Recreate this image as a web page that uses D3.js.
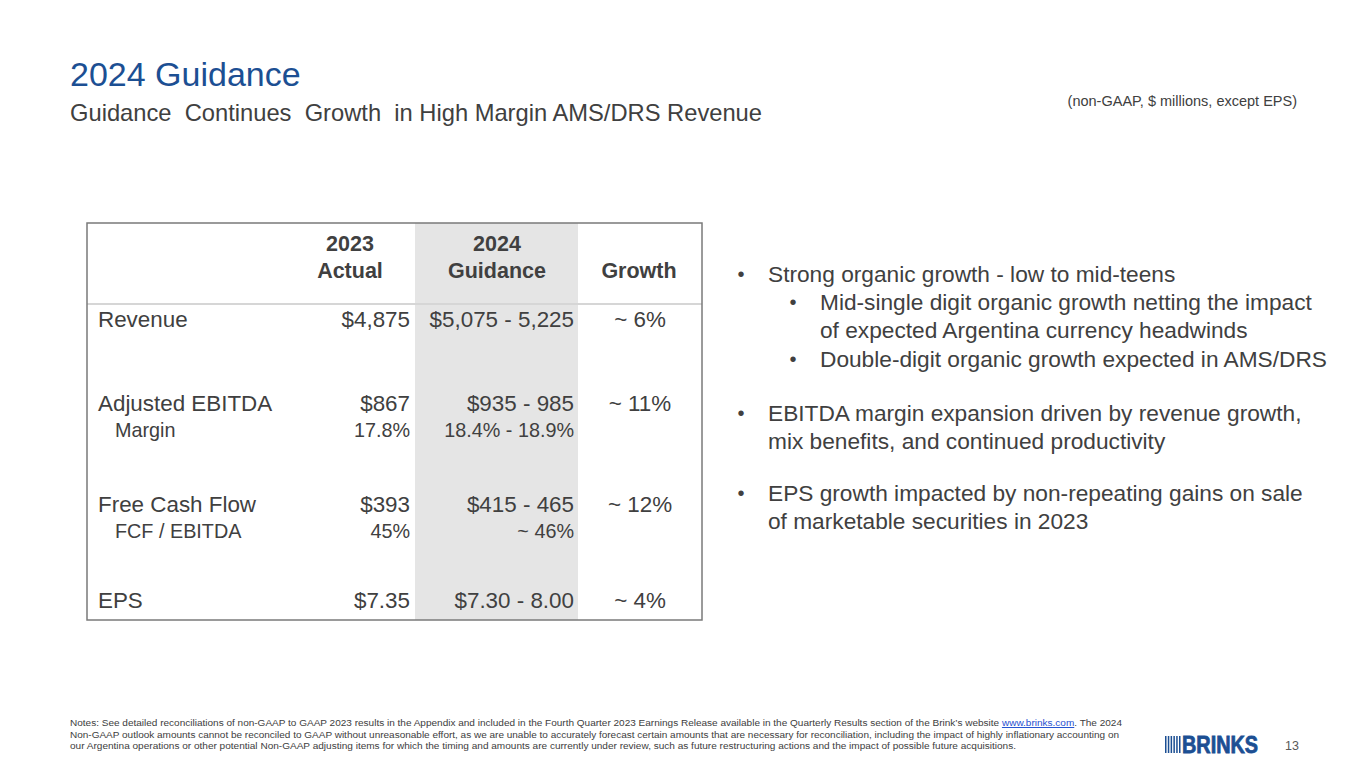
<!DOCTYPE html>
<html>
<head>
<meta charset="utf-8">
<script src="https://cdn.jsdelivr.net/npm/d3@7"></script>
<style>
  html, body { margin: 0; padding: 0; background: #fff; }
  svg { display: block; font-family: "Liberation Sans", Arial, sans-serif; }
</style>
</head>
<body>
<script>
// Slide text and table values.
const title = "2024 Guidance";
const subtitle = "Guidance  Continues  Growth  in High Margin AMS/DRS Revenue";
const unitsNote = "(non-GAAP, $ millions, except EPS)";

const columnTop = ["", "2023", "2024", ""];
const columnBottom = ["", "Actual", "Guidance", "Growth"];

const metrics = ["Revenue", "Adjusted EBITDA", "Free Cash Flow", "EPS"];
const subMetrics = [null, "Margin", "FCF / EBITDA", null];
const actual2023 = ["$4,875", "$867", "$393", "$7.35"];
const actual2023Sub = [null, "17.8%", "45%", null];
const guidance2024 = ["$5,075 - 5,225", "$935 - 985", "$415 - 465", "$7.30 - 8.00"];
const guidance2024Sub = [null, "18.4% - 18.9%", "~ 46%", null];
const growth = ["~ 6%", "~ 11%", "~ 12%", "~ 4%"];

const bulletLevels = [0, 1, 1, 0, 0];
const bulletLines = [
  ["Strong organic growth - low to mid-teens"],
  ["Mid-single digit organic growth netting the impact", "of expected Argentina currency headwinds"],
  ["Double-digit organic growth expected in AMS/DRS"],
  ["EBITDA margin expansion driven by revenue growth,", "mix benefits, and continued productivity"],
  ["EPS growth impacted by non-repeating gains on sale", "of marketable securities in 2023"]
];

const footLines = [
  ["Notes: See detailed reconciliations of non-GAAP to GAAP 2023 results in the Appendix and included in the Fourth Quarter 2023 Earnings Release available in the Quarterly Results section of the Brink\u2019s website ", "www.brinks.com", ". The 2024"],
  ["Non-GAAP outlook amounts cannot be reconciled to GAAP without unreasonable effort, as we are unable to accurately forecast certain amounts that are necessary for reconciliation, including the impact of highly inflationary accounting on"],
  ["our Argentina operations or other potential Non-GAAP adjusting items for which the timing and amounts are currently under review, such as future restructuring actions and the impact of possible future acquisitions."]
];
const footWidths = [1052, 1049, 946];
const pageNumber = "13";

const W = 1365, H = 768;
const grey = "#404040", blue = "#1c4f93";

const svg = d3.select("body").append("svg")
  .attr("width", W).attr("height", H);

// heading
svg.append("text").attr("x", 70).attr("y", 86)
  .attr("font-size", 34).attr("fill", blue).text(title);
svg.append("text").attr("x", 70).attr("y", 121)
  .attr("font-size", 24).attr("fill", grey)
  .attr("textLength", 692).attr("lengthAdjust", "spacingAndGlyphs")
  .style("white-space", "pre").text(subtitle);
svg.append("text").attr("x", 1297).attr("y", 106)
  .attr("text-anchor", "end").attr("font-size", 14.5).attr("fill", grey)
  .text(unitsNote);

// table
const table = { left: 87, right: 702, top: 223, bottom: 620, headerBottom: 304 };
const colAnchor = d3.scaleOrdinal().domain([0, 1, 2, 3]).range([98, 410, 574, 640]);
const colAlign = ["start", "end", "end", "middle"];
const rowY = d3.scaleOrdinal().domain(metrics).range([327, 411, 512, 608]);
const subGap = 26;

const tg = svg.append("g");

// shaded guidance column
tg.append("rect")
  .attr("x", 415).attr("y", table.top)
  .attr("width", 578 - 415).attr("height", table.bottom - table.top)
  .attr("fill", "#e5e5e5");

tg.append("line")
  .attr("x1", table.left).attr("x2", table.right)
  .attr("y1", table.headerBottom).attr("y2", table.headerBottom)
  .attr("stroke", "#d6d6d6").attr("stroke-width", 2);

tg.append("rect")
  .attr("x", table.left).attr("y", table.top)
  .attr("width", table.right - table.left).attr("height", table.bottom - table.top)
  .attr("fill", "none").attr("stroke", "#7a7a7a").attr("stroke-width", 1.5);

// header text
const headerX = d3.scaleOrdinal().domain([0, 1, 2, 3]).range([98, 350, 497, 639]);
tg.selectAll("text.h1").data(columnTop).join("text")
  .attr("class", "h1")
  .attr("x", (d, i) => headerX(i)).attr("y", 251)
  .attr("text-anchor", "middle").attr("font-size", 21.5).attr("font-weight", "bold")
  .attr("fill", grey).text(d => d);
tg.selectAll("text.h2").data(columnBottom).join("text")
  .attr("class", "h2")
  .attr("x", (d, i) => headerX(i)).attr("y", 278)
  .attr("text-anchor", "middle").attr("font-size", 21.5).attr("font-weight", "bold")
  .attr("fill", grey).text(d => d);

// body rows
const mainCols = [metrics, actual2023, guidance2024, growth];
const subCols = [subMetrics, actual2023Sub, guidance2024Sub, [null, null, null, null]];

mainCols.forEach((col, c) => {
  tg.selectAll("text.m" + c).data(col).join("text")
    .attr("class", "m" + c)
    .attr("x", colAnchor(c))
    .attr("y", (d, i) => rowY(metrics[i]))
    .attr("text-anchor", colAlign[c])
    .attr("font-size", 22.4).attr("fill", grey)
    .text(d => d);
});
subCols.forEach((col, c) => {
  tg.selectAll("text.s" + c).data(col.map((d, i) => ({ d, i })).filter(o => o.d)).join("text")
    .attr("class", "s" + c)
    .attr("x", c === 0 ? colAnchor(c) + 17 : colAnchor(c))
    .attr("y", o => rowY(metrics[o.i]) + subGap)
    .attr("text-anchor", colAlign[c])
    .attr("font-size", 19.8).attr("fill", grey)
    .text(o => o.d);
});

// bullets
const bulletTop = [282, 310, 367, 421, 501];
const lineGap = 28;
const bg = svg.append("g");
bulletLines.forEach((lines, b) => {
  const lvl = bulletLevels[b];
  const bx = lvl === 0 ? 741 : 793;
  const tx = lvl === 0 ? 768 : 820;
  bg.append("text").attr("x", bx).attr("y", bulletTop[b] - 1)
    .attr("text-anchor", "middle")
    .attr("font-size", 20).attr("fill", grey).text("\u2022");
  lines.forEach((ln, k) => {
    bg.append("text").attr("x", tx).attr("y", bulletTop[b] + k * lineGap)
      .attr("font-size", 22.7).attr("fill", grey).text(ln);
  });
});

// footnote
const fg = svg.append("g");
footLines.forEach((parts, i) => {
  const t = fg.append("text").attr("x", 70).attr("y", 726 + i * 11.6)
    .attr("font-size", 9.6).attr("fill", grey)
    .attr("textLength", footWidths[i]).attr("lengthAdjust", "spacingAndGlyphs");
  parts.forEach(p => {
    const s = t.append("tspan").text(p);
    if (p.startsWith("www.")) s.attr("fill", "#1f4fd0").attr("text-decoration", "underline");
  });
});

// logo
const lg = svg.append("g").attr("transform", "translate(1165,736)");
d3.range(6).forEach(i => {
  lg.append("rect").attr("x", i * 2.8).attr("y", 0).attr("width", 1.5).attr("height", 17)
    .attr("fill", blue);
});
lg.append("text").attr("x", 17).attr("y", 17)
  .attr("font-size", 23).attr("font-weight", "bold").attr("fill", blue)
  .attr("stroke", blue).attr("stroke-width", 0.8)
  .attr("textLength", 76).attr("lengthAdjust", "spacingAndGlyphs")
  .text("BRINKS");
svg.append("text").attr("x", 1285).attr("y", 750)
  .attr("font-size", 12.5).attr("fill", "#595959").text(pageNumber);
</script>
</body>
</html>
